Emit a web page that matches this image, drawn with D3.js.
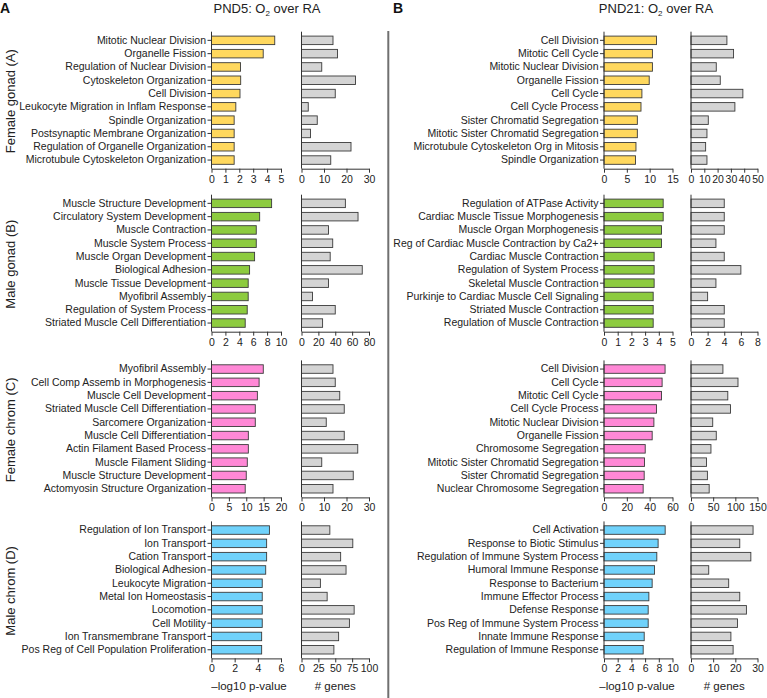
<!DOCTYPE html>
<html>
<head>
<meta charset="utf-8">
<script src="https://cdn.jsdelivr.net/npm/d3@7"></script>
<style>
  body { margin: 0; background: #fff; }
  svg { display: block; font-family: "Liberation Sans", Arial, sans-serif; }
  .tick text { fill: #222; }
</style>
</head>
<body>
<div id="viz"></div>
<script>
// ---- data ----
const rowLabels = ["Female gonad (A)", "Male gonad (B)", "Female chrom (C)", "Male chrom (D)"];
const rowColors = ["#ffd85e", "#8dcb3f", "#ff88d6", "#70d2fb"];

// PND5 (column A)
const termsA1 = ["Mitotic Nuclear Division", "Organelle Fission", "Regulation of Nuclear Division", "Cytoskeleton Organization", "Cell Division", "Leukocyte Migration in Inflam Response", "Spindle Organization", "Postsynaptic Membrane Organization", "Regulation of Organelle Organization", "Microtubule Cytoskeleton Organization"];
const logpA1 = [4.55, 3.72, 2.09, 2.1, 2.05, 1.75, 1.63, 1.63, 1.63, 1.63];
const genesA1 = [14, 16, 9, 24, 15, 3, 7, 4, 22, 13];

const termsA2 = ["Muscle Structure Development", "Circulatory System Development", "Muscle Contraction", "Muscle System Process", "Muscle Organ Development", "Biological Adhesion", "Muscle Tissue Development", "Myofibril Assembly", "Regulation of System Process", "Striated Muscle Cell Differentiation"];
const logpA2 = [8.65, 6.93, 6.44, 6.44, 6.2, 5.48, 5.28, 5.28, 5.14, 4.85];
const genesA2 = [52, 67, 32, 37, 34, 72, 32, 13, 40, 25];

const termsA3 = ["Myofibril Assembly", "Cell Comp Assemb in Morphogenesis", "Muscle Cell Development", "Striated Muscle Cell Differentiation", "Sarcomere Organization", "Muscle Cell Differentiation", "Actin Filament Based Process", "Muscle Filament Sliding", "Muscle Structure Development", "Actomyosin Structure Organization"];
const logpA3 = [14.9, 13.7, 13.2, 12.6, 12.6, 10.6, 10.6, 10.3, 10.0, 9.7];
const genesA3 = [14, 15, 17, 19, 11, 19, 25, 9, 23, 14];

const termsA4 = ["Regulation of Ion Transport", "Ion Transport", "Cation Transport", "Biological Adhesion", "Leukocyte Migration", "Metal Ion Homeostasis", "Locomotion", "Cell Motility", "Ion Transmembrane Transport", "Pos Reg of Cell Population Proliferation"];
const logpA4 = [5.0, 4.76, 4.76, 4.68, 4.38, 4.38, 4.38, 4.38, 4.33, 4.33];
const genesA4 = [42, 76, 58, 66, 28, 38, 78, 71, 55, 48];

// PND21 (column B)
const termsB1 = ["Cell Division", "Mitotic Cell Cycle", "Mitotic Nuclear Division", "Organelle Fission", "Cell Cycle", "Cell Cycle Process", "Sister Chromatid Segregation", "Mitotic Sister Chromatid Segregation", "Microtubule Cytoskeleton Org in Mitosis", "Spindle Organization"];
const logpB1 = [11.5, 10.6, 10.6, 9.9, 8.3, 8.1, 7.3, 7.3, 7.0, 6.9];
const genesB1 = [27, 32, 19, 22, 39, 33, 13, 12, 11, 12];

const termsB2 = ["Regulation of ATPase Activity", "Cardiac Muscle Tissue Morphogenesis", "Muscle Organ Morphogenesis", "Reg of Cardiac Muscle Contraction by Ca2+", "Cardiac Muscle Contraction", "Regulation of System Process", "Skeletal Muscle Contraction", "Purkinje to Cardiac Muscle Cell Signaling", "Striated Muscle Contraction", "Regulation of Muscle Contraction"];
const logpB2 = [4.32, 4.32, 4.2, 4.2, 3.66, 3.66, 3.66, 3.59, 3.59, 3.59];
const genesB2 = [4, 4, 4, 3, 4, 6, 3, 2, 4, 4];

const termsB3 = ["Cell Division", "Cell Cycle", "Mitotic Cell Cycle", "Cell Cycle Process", "Mitotic Nuclear Division", "Organelle Fission", "Chromosome Segregation", "Mitotic Sister Chromatid Segregation", "Sister Chromatid Segregation", "Nuclear Chromosome Segregation"];
const logpB3 = [53.5, 50.9, 50.4, 46, 43.7, 42.2, 36.1, 35.5, 35.2, 34.3];
const genesB3 = [72, 106, 83, 89, 49, 57, 45, 35, 37, 41];

const termsB4 = ["Cell Activation", "Response to Biotic Stimulus", "Regulation of Immune System Process", "Humoral Immune Response", "Response to Bacterium", "Immune Effector Process", "Defense Response", "Pos Reg of Immune System Process", "Innate Immune Response", "Regulation of Immune Response"];
const logpB4 = [8.93, 7.9, 7.71, 7.38, 7.03, 6.55, 6.45, 6.45, 5.87, 5.72];
const genesB4 = [28, 22, 27, 8, 17, 22, 25, 21, 18, 19];

// axis ticks
const pTicksA = [[0, 1, 2, 3, 4, 5], [0, 2, 4, 6, 8, 10], [0, 5, 10, 15, 20], [0, 2, 4, 6]];
const gTicksA = [[0, 10, 20, 30], [0, 20, 40, 60, 80], [0, 10, 20, 30], [0, 25, 50, 75, 100]];
const pTicksB = [[0, 5, 10, 15], [0, 1, 2, 3, 4, 5], [0, 20, 40, 60], [0, 2, 4, 6, 8, 10]];
const gTicksB = [[0, 10, 20, 30, 40, 50], [0, 2, 4, 6, 8], [0, 50, 100, 150], [0, 10, 20, 30]];

// ---- layout ----
const W = 767, H = 698;
const rowTops = [33.7, 196.7, 362.4, 523.4];
const bandH = 133;
const columns = [
  { title: "PND5", letter: "A", letterX: 0, titleX: 267, p: [211.5, 281], g: [301.5, 369],
    terms: [termsA1, termsA2, termsA3, termsA4], logp: [logpA1, logpA2, logpA3, logpA4],
    genes: [genesA1, genesA2, genesA3, genesA4], pTicks: pTicksA, gTicks: gTicksA, pTitleX: 249 },
  { title: "PND21", letter: "B", letterX: 393, titleX: 656, p: [604, 672.5], g: [691, 757.5],
    terms: [termsB1, termsB2, termsB3, termsB4], logp: [logpB1, logpB2, logpB3, logpB4],
    genes: [genesB1, genesB2, genesB3, genesB4], pTicks: pTicksB, gTicks: gTicksB, pTitleX: 637 }
];

const svg = d3.select("#viz").append("svg")
  .attr("width", W)
  .attr("height", H);

// divider between A and B
svg.append("line")
  .attr("x1", 388.3).attr("x2", 388.3)
  .attr("y1", 31).attr("y2", H)
  .style("stroke", "#707070")
  .style("stroke-width", 2);

// row labels
rowLabels.forEach((lab, r) => {
  svg.append("text")
    .attr("transform", `translate(15,${rowTops[r] + bandH / 2 + 1}) rotate(-90)`)
    .attr("text-anchor", "middle")
    .style("font-size", "13px")
    .style("fill", "#222")
    .text(lab);
});

function styleAxis(g) {
  g.selectAll("path.domain").style("stroke", "#333").style("stroke-width", 1);
  g.selectAll(".tick line").style("stroke", "#333");
  g.selectAll(".tick text").style("font-size", "10.5px").style("font-family", "'Liberation Sans', Arial, sans-serif");
}

function drawPanel(xr, domainMax, ticks, cats, vals, fill, top, showLabels) {
  const y = d3.scaleBand()
    .domain(cats)
    .range([top, top + bandH])
    .paddingInner(0.36)
    .paddingOuter(0.18);
  const x = d3.scaleLinear().domain([0, domainMax]).range(xr);
  const axisY = top + bandH + 2;

  svg.append("g")
    .selectAll("rect")
    .data(cats)
    .join("rect")
    .attr("x", x(0))
    .attr("y", d => y(d))
    .attr("width", (d, i) => x(vals[i]) - x(0))
    .attr("height", y.bandwidth())
    .style("fill", fill)
    .style("stroke", "#3a3a3a")
    .style("stroke-width", 0.9);

  // y axis (vertical line + small ticks)
  const ya = svg.append("g")
    .attr("transform", `translate(${x(0)},0)`)
    .call(d3.axisLeft(y).tickSize(showLabels ? 4 : 0).tickPadding(1.5).tickSizeOuter(0));
  ya.select("path.domain").attr("d", `M0,${top - 2}V${axisY}`);
  if (!showLabels) ya.selectAll(".tick").remove();
  styleAxis(ya);

  const xa = svg.append("g")
    .attr("transform", `translate(0,${axisY})`)
    .call(d3.axisBottom(x).tickValues(ticks).tickFormat(d3.format("d")).tickSize(4).tickPadding(2.5).tickSizeOuter(0));
  styleAxis(xa);
}

columns.forEach(col => {
  svg.append("text")
    .attr("x", col.letterX).attr("y", 13)
    .style("font-size", "14px")
    .style("font-weight", "bold")
    .style("fill", "#111")
    .text(col.letter);

  const t = svg.append("text")
    .attr("x", col.titleX).attr("y", 13)
    .attr("text-anchor", "middle")
    .style("font-size", "13px")
    .style("fill", "#222");
  t.append("tspan").text(col.title + ": O");
  t.append("tspan").attr("dy", 3).style("font-size", "8px").text("2");
  t.append("tspan").attr("dy", -3).text(" over RA");

  for (let r = 0; r < 4; r++) {
    const pTicks = col.pTicks[r], gTicks = col.gTicks[r];
    drawPanel(col.p, pTicks[pTicks.length - 1], pTicks, col.terms[r], col.logp[r], rowColors[r], rowTops[r], true);
    drawPanel(col.g, gTicks[gTicks.length - 1], gTicks, col.terms[r], col.genes[r], "#d4d4d4", rowTops[r], false);
  }

  svg.append("text")
    .attr("x", col.pTitleX).attr("y", 690)
    .attr("text-anchor", "middle")
    .style("font-size", "11.5px")
    .style("fill", "#222")
    .text("\u2013log10 p-value");
  svg.append("text")
    .attr("x", (col.g[0] + col.g[1]) / 2).attr("y", 690)
    .attr("text-anchor", "middle")
    .style("font-size", "11.5px")
    .style("fill", "#222")
    .text("# genes");
});
</script>
</body>
</html>
